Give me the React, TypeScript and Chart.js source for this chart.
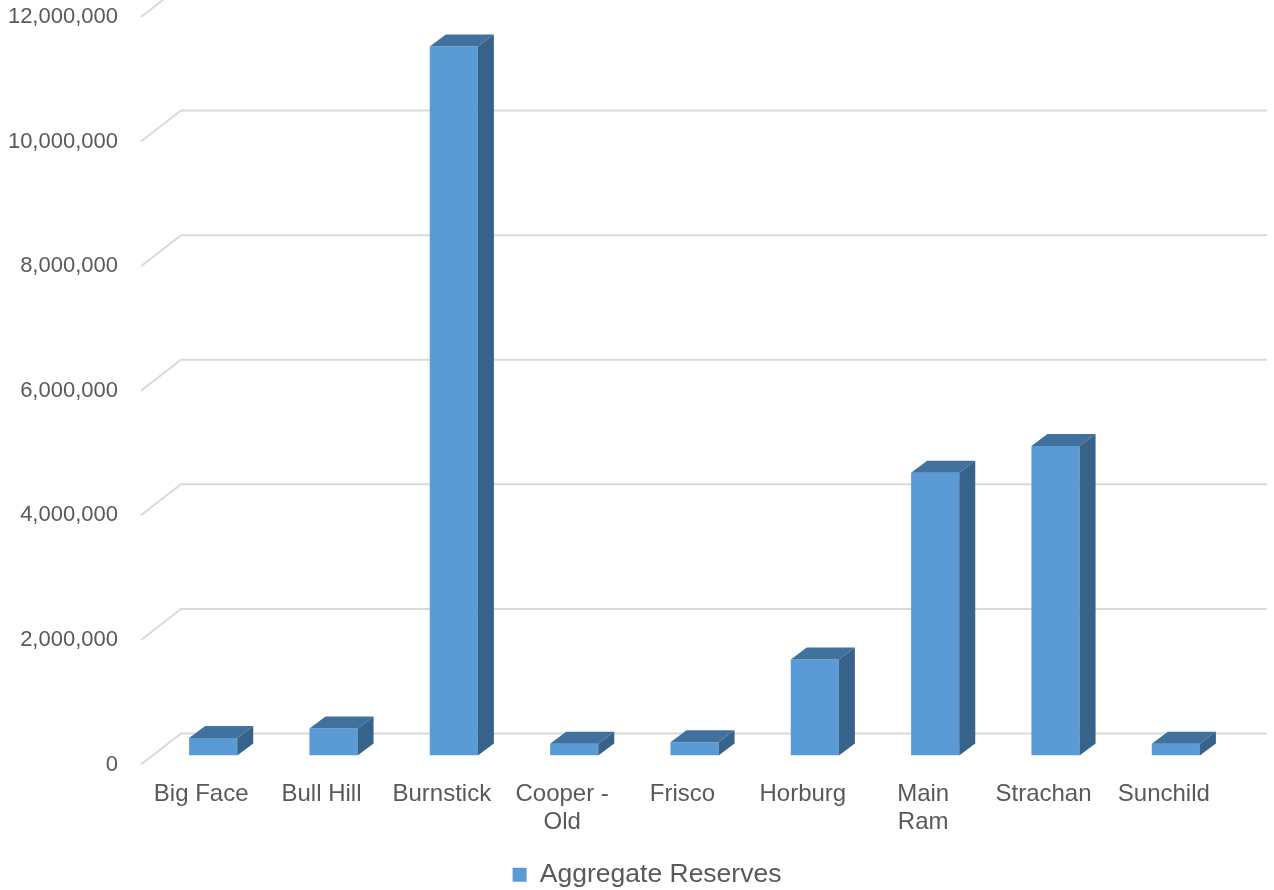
import React, { useEffect, useRef } from "react";
import { Chart, registerables } from "chart.js";

Chart.register(...registerables);

const categories: (string | string[])[] = [
  "Big Face",
  "Bull Hill",
  "Burnstick",
  ["Cooper -", "Old"],
  "Frisco",
  "Horburg",
  ["Main", "Ram"],
  "Strachan",
  "Sunchild",
];
const seriesName = "Aggregate Reserves";
const reserves = [280000, 434000, 11380000, 190000, 214000, 1540000, 4540000, 4970000, 190000];
const yMin = 0;
const yMax = 12000000;
const yStep = 2000000;

const FRONT = "#5B9BD5";
const TOP = "#41729F";
const SIDE = "#37628A";
const GRID = "#D9D9D9";
const TEXT = "#595959";
const DX = 16;
const DY = 12;
const FONT = "'Liberation Sans', Arial, sans-serif";

const threeD = {
  id: "threeD",
  beforeDatasetsDraw(chart: any) {
    const { ctx, chartArea, scales } = chart;
    const y = scales.y;
    ctx.save();
    ctx.strokeStyle = GRID;
    ctx.lineWidth = 2;
    for (let v = yMin; v <= yMax; v += yStep) {
      const yf = y.getPixelForValue(v) + 9;
      const xf = chartArea.left - 12;
      ctx.beginPath();
      ctx.moveTo(xf, yf);
      ctx.lineTo(xf + 40, yf - 31);
      ctx.lineTo(chartArea.right + 31, yf - 31);
      ctx.stroke();
    }
    ctx.restore();
  },
  afterDatasetsDraw(chart: any) {
    const { ctx } = chart;
    const meta = chart.getDatasetMeta(0);
    ctx.save();
    meta.data.forEach((bar: any) => {
      const { x, y, base, width } = bar.getProps(["x", "y", "base", "width"], true);
      const l = x - width / 2;
      const r = x + width / 2;
      ctx.fillStyle = TOP;
      ctx.beginPath();
      ctx.moveTo(l, y);
      ctx.lineTo(l + DX, y - DY);
      ctx.lineTo(r + DX, y - DY);
      ctx.lineTo(r, y);
      ctx.closePath();
      ctx.fill();
      ctx.fillStyle = SIDE;
      ctx.beginPath();
      ctx.moveTo(r, y);
      ctx.lineTo(r + DX, y - DY);
      ctx.lineTo(r + DX, base - DY);
      ctx.lineTo(r, base);
      ctx.closePath();
      ctx.fill();
    });
    ctx.restore();
  },
};

export default function App() {
  const ref = useRef<HTMLCanvasElement | null>(null);
  useEffect(() => {
    document.body.style.margin = "0";
    const chart = new Chart(ref.current as HTMLCanvasElement, {
      type: "bar",
      data: {
        labels: categories,
        datasets: [
          {
            label: seriesName,
            data: reserves,
            backgroundColor: FRONT,
            borderWidth: 0,
            barPercentage: 0.4,
            categoryPercentage: 1,
          },
        ],
      },
      options: {
        animation: false,
        responsive: false,
        maintainAspectRatio: false,
        layout: { padding: { left: 0, right: -20, top: 8, bottom: -8 } },
        plugins: {
          tooltip: { enabled: false },
          legend: {
            position: "bottom",
            labels: {
              color: TEXT,
              font: { family: FONT, size: 26.5 },
              boxWidth: 14,
              boxHeight: 14,
              padding: 2,
            },
          },
        },
        scales: {
          x: {
            grid: { display: false, drawTicks: false },
            border: { display: false },
            ticks: {
              color: TEXT,
              font: { family: FONT, size: 24, lineHeight: 1.17 },
              padding: 25,
              labelOffset: -12,
              maxRotation: 0,
              autoSkip: false,
            },
            afterFit(scale: any) {
              scale.height = 104;
              scale.paddingLeft = 0;
              scale.paddingRight = 0;
            },
          },
          y: {
            min: yMin,
            max: yMax,
            grid: { display: false, drawTicks: false },
            border: { display: false },
            ticks: {
              stepSize: yStep,
              color: TEXT,
              font: { family: FONT, size: 22 },
              padding: 35,
              labelOffset: 9,
              callback: (v: any) => Number(v).toLocaleString("en-US"),
            },
            afterFit(scale: any) {
              scale.width = 153;
              scale.paddingTop = 0;
              scale.paddingBottom = 0;
            },
          },
          yR: {
            position: "right",
            display: true,
            grid: { display: false, drawTicks: false },
            border: { display: false },
            ticks: { display: false },
            afterFit(scale: any) {
              scale.width = 58;
              scale.paddingTop = 0;
              scale.paddingBottom = 0;
            },
          },
        },
      },
      plugins: [threeD],
    });
    return () => chart.destroy();
  }, []);
  return <canvas ref={ref} width={1274} height={890} style={{ display: "block" }} />;
}
